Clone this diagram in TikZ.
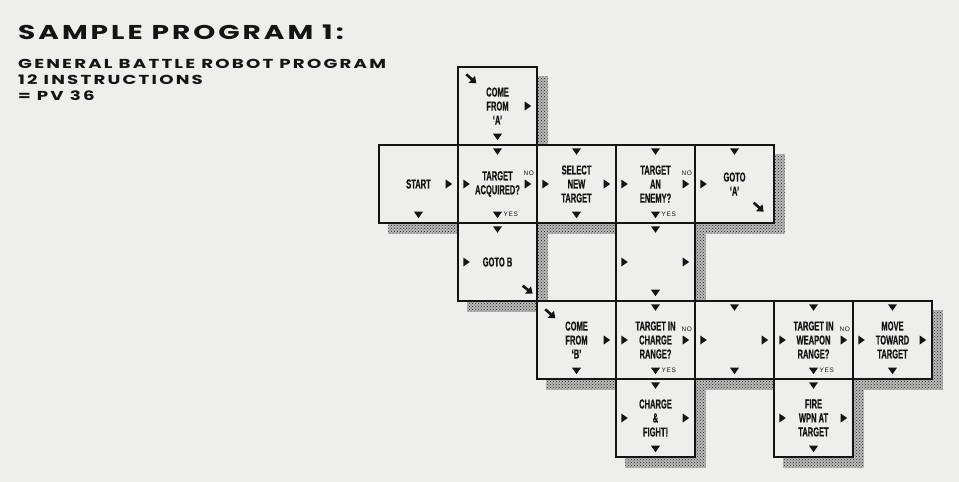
\documentclass[tikz,border=0pt]{standalone}
\usepackage{fontspec}
\usepackage{tikz}
\usetikzlibrary{arrows.meta,patterns,backgrounds}
\newfontfamily\titlefont{Poppins}[FakeStretch=1.4, LetterSpace=15]
\newfontfamily\subfont{Poppins}[FakeStretch=1.4, LetterSpace=17]
\newfontfamily\cellfont{Liberation Sans}[FakeStretch=0.58, FakeBold=0.6]
\newfontfamily\tagfont{Liberation Sans}[LetterSpace=10]
\definecolor{pagebg}{RGB}{238,238,236}
\definecolor{ink}{RGB}{20,20,20}
\tikzset{
  cell/.style={draw=ink, line width=1.4pt, fill=pagebg, minimum width=79pt, minimum height=78pt,
    inner sep=0pt, align=center, text=ink, font=\cellfont\bfseries\fontsize{13}{14}\selectfont},
  tagtxt/.style={inner sep=0pt, text=ink, font=\tagfont\fontsize{6.5}{7}\selectfont},
  headtxt/.style={anchor=base west, inner sep=0pt, text=ink},
  shadowfill/.style={fill=gray!55, postaction={pattern=crosshatch dots, pattern color=black!85}},
  diagarr/.style={draw=ink, line width=2.6pt, -{Triangle[length=6pt,width=9pt]}},
  tipr/.pic={\fill[ink] (-3,-4.5) -- (3.5,0) -- (-3,4.5) -- cycle;},
  tipd/.pic={\fill[ink] (-4.5,-3) -- (4.5,-3) -- (0,3.5) -- cycle;}
}
\begin{document}
\begin{tikzpicture}[x=1pt, y=-1pt]
  \useasboundingbox (0,0) rectangle (959,482);
  % heading
  \node[headtxt, font=\titlefont\bfseries\fontsize{20}{24}\selectfont] (title) at (18,39) {SAMPLE PROGRAM 1:};
  \node[headtxt, font=\subfont\bfseries\fontsize{13}{16}\selectfont] (sub1) at (18,68) {GENERAL BATTLE ROBOT PROGRAM};
  \node[headtxt, font=\subfont\bfseries\fontsize{13}{16}\selectfont] (sub2) at (18,84) {12 INSTRUCTIONS};
  \node[headtxt, font=\subfont\bfseries\fontsize{13}{16}\selectfont] (sub3) at (18,100) {= PV 36};
  % program squares
  \node[cell] (comeA)  at (497.5,106) {COME\\FROM\\‘A’};
  \node[cell] (start)  at (418.5,184) {START};
  \node[cell] (acq)    at (497.5,184) {TARGET\\ACQUIRED?};
  \node[cell] (select) at (576.5,184) {SELECT\\NEW\\TARGET};
  \node[cell] (enemy)  at (655.5,184) {TARGET\\AN\\ENEMY?};
  \node[cell] (gotoA)  at (734.5,184) {GOTO\\‘A’};
  \node[cell] (gotoB)  at (497.5,262) {GOTO B};
  \node[cell] (pass1)  at (655.5,262) {};
  \node[cell] (comeB)  at (576.5,340) {COME\\FROM\\‘B’};
  \node[cell] (charge) at (655.5,340) {TARGET IN\\CHARGE\\RANGE?};
  \node[cell] (pass2)  at (734.5,340) {};
  \node[cell] (weapon) at (813.5,340) {TARGET IN\\WEAPON\\RANGE?};
  \node[cell] (move)   at (892.5,340) {MOVE\\TOWARD\\TARGET};
  \node[cell] (fight)  at (655.5,418) {CHARGE\\\&\\FIGHT!};
  \node[cell] (fire)   at (813.5,418) {FIRE\\WPN AT\\TARGET};
  % entry and exit marks
  \foreach \c in {acq,select,enemy,gotoA,gotoB,pass1,charge,pass2,weapon,move,fight,fire} {
    \pic at ([yshift=-7pt]\c.north) {tipd};
    \pic at ([xshift=9pt]\c.west) {tipr};
  }
  \foreach \c in {comeA,start,acq,select,enemy,pass1,comeB,charge,pass2,weapon,move,fight,fire} {
    \pic at ([xshift=-10pt]\c.east) {tipr};
    \pic at ([yshift=9pt]\c.south) {tipd};
  }
  \foreach \c in {acq,enemy,charge,weapon} {
    \node[tagtxt] (\c-no) at ([xshift=-9pt,yshift=11pt]\c.east) {NO};
    \node[tagtxt, anchor=west] (\c-yes) at ([xshift=6pt,yshift=9pt]\c.south) {YES};
  }
  % jumps
  \draw[diagarr] ([shift={(9,8)}]comeA.north west) -- ++(10,9);
  \draw[diagarr] ([shift={(-21,-21)}]gotoA.south east) -- ++(10,9);
  \draw[diagarr] ([shift={(-15,-16)}]gotoB.south east) -- ++(10,8);
  \draw[diagarr] ([shift={(9,9)}]comeB.north west) -- ++(10,9);
  % paper and shadows
  \begin{scope}[on background layer]
    \fill[pagebg] (0,0) rectangle (959,482);
    \foreach \c in {comeA,start,acq,select,enemy,gotoA,gotoB,pass1,comeB,charge,pass2,weapon,move,fight,fire}
      \path[shadowfill] ([shift={(10,10)}]\c.north west) rectangle ([shift={(10,10)}]\c.south east);
  \end{scope}
\end{tikzpicture}
\end{document}
